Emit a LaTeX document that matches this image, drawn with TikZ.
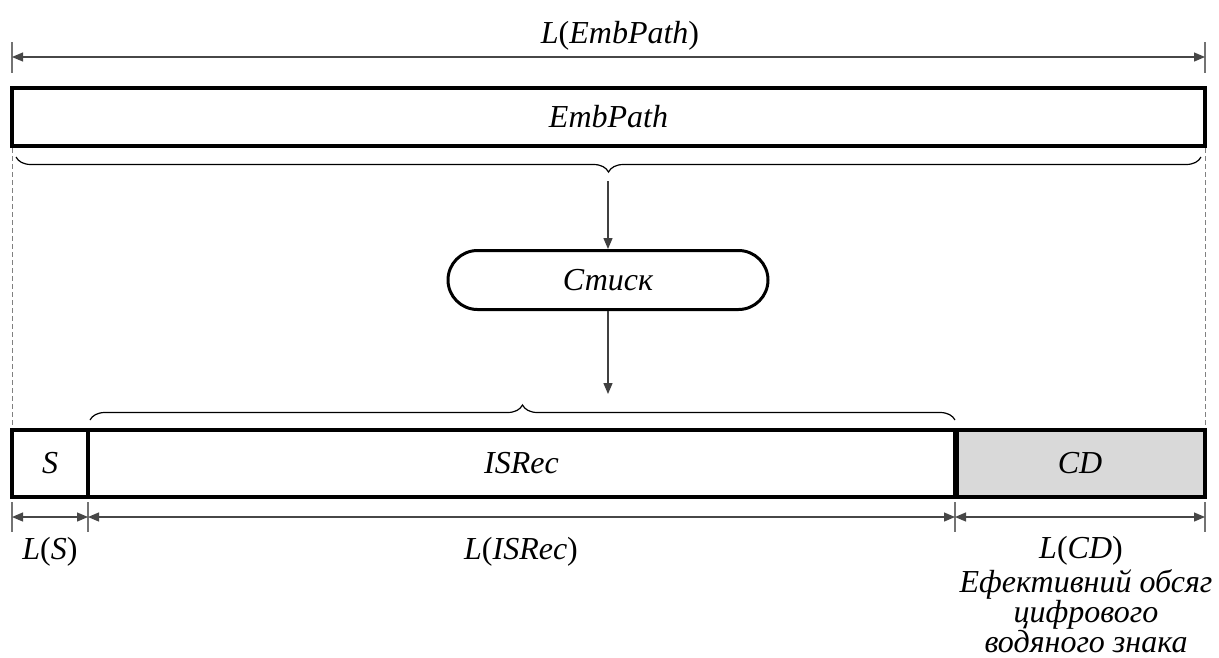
\documentclass[tikz,border=0pt]{standalone}
\usepackage{fontspec}
\setmainfont{Liberation Serif}
\usetikzlibrary{arrows.meta,decorations.pathreplacing,shapes.misc}

\tikzset{
  lbl/.style={font=\fontsize{32}{30.5}\selectfont, inner sep=0pt},
  field/.style={draw, line width=3.6pt, inner sep=0pt, minimum height=67pt,
    font=\itshape\fontsize{32}{30.5}\selectfont},
  dimline/.style={draw=black!72, line width=1.2pt,
    {Triangle[length=11pt,width=9pt]}-{Triangle[length=11pt,width=9pt]}},
  tick/.style={draw=black!55, line width=1.1pt},
  flow/.style={draw=black!75, line width=1.4pt, -{Triangle[length=11pt,width=9pt]}},
  guide/.style={draw=black!50, line width=0.8pt, dash pattern=on 5pt off 3pt},
  curly/.style={draw, line width=1.2pt, decorate,
    decoration={brace, amplitude=15pt, aspect=0.5}}
}

\begin{document}
\begin{tikzpicture}[x=1pt, y=-1pt]
\useasboundingbox (0,0) rectangle (1219,657);

% overall length of the embedding path
\coordinate (t1a) at (12,42);   \coordinate (t1b) at (12,73);
\coordinate (t2a) at (1205,42); \coordinate (t2b) at (1205,73);
\draw[tick] (t1a) -- (t1b);
\draw[tick] (t2a) -- (t2b);
\coordinate (d1) at (12,57); \coordinate (d2) at (1205,57);
\draw[dimline] (d1) -- (d2);
\node[lbl, anchor=base] (lemb) at (620,43) {\textit{L}(\textit{EmbPath})};

% embedding path
\node[field, minimum width=1193pt, minimum height=58pt] (emb) at (608.5,117) {EmbPath};

% brace under the path
\coordinate (b1l) at (16,157); \coordinate (b1r) at (1201,157);
\draw[curly] (b1r) -- (b1l);

% side guides
\coordinate (g1a) at (12,148);   \coordinate (g1b) at (12,429);
\coordinate (g2a) at (1205,148); \coordinate (g2b) at (1205,429);
\draw[guide] (g1a) -- (g1b);
\draw[guide] (g2a) -- (g2b);

% compression step
\node[draw, rounded rectangle, line width=3pt, minimum width=320pt, minimum height=59pt,
  inner sep=0pt, font=\itshape\fontsize{32}{30.5}\selectfont] (cmp) at (608,280) {Стиск};
\coordinate (a1) at (608,181);
\draw[flow] (a1) -- (cmp.north);
\coordinate (a2) at (608,394);
\draw[flow] (cmp.south) -- (a2);

% brace over the compressed record
\coordinate (b2l) at (90,420); \coordinate (b2r) at (955,420);
\draw[curly] (b2l) -- (b2r);

% resulting container fields
\node[field, minimum width=76pt] (s) at (50,463.5) {S};
\node[field, minimum width=867pt] (isrec) at (521.5,463.5) {ISRec};
\node[field, minimum width=250pt, fill=black!15] (cd) at (1080,463.5) {CD};
\draw[line width=3.6pt] (isrec.north east) -- (isrec.south east);

% field lengths
\foreach \x/\n in {12/p0, 88/p1, 955/p2, 1205/p3} {
  \coordinate (\n a) at (\x,502);
  \coordinate (\n b) at (\x,532);
  \coordinate (\n) at (\x,517);
  \draw[tick] (\n a) -- (\n b);
}
\draw[dimline] (p0) -- (p1);
\draw[dimline] (p1) -- (p2);
\draw[dimline] (p2) -- (p3);

\node[lbl, anchor=base] (ls) at (50,559) {\textit{L}(\textit{S})};
\node[lbl, anchor=base] (lis) at (521,559) {\textit{L}(\textit{ISRec})};
\node[lbl, anchor=base] (lcd) at (1081,558) {\textit{L}(\textit{CD})};
\node[lbl, align=center, font=\itshape\fontsize{32}{30}\selectfont] (desc) at (1086,611)
  {Ефективний обсяг\\цифрового\\водяного знака};
\end{tikzpicture}
\end{document}
